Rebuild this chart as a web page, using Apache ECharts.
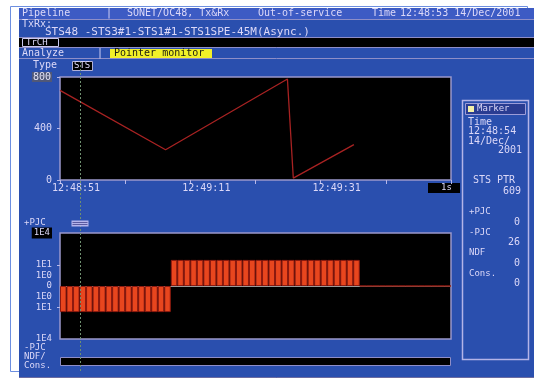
<!DOCTYPE html>
<html>
<head>
<meta charset="utf-8">
<style>
  html, body { margin: 0; padding: 0; background: #ffffff; }
  #main { width: 543px; height: 379px; }
</style>
<script src="https://cdn.jsdelivr.net/npm/echarts@6/dist/echarts.min.js"></script>
</head>
<body>
<div id="main"></div>
<script>
// Pointer monitor: STS pointer value over a 60 s window, plus pointer justifications per second.

// time axis: seconds from 12:48:51, ticks every 10 s, labels every 20 s
const timeLabels = ['12:48:51', '12:49:11', '12:49:31'];

// STS pointer value (seconds, pointer)
const ptrPoints = [[0, 696], [16.2, 235], [34.9, 784], [35.8, 15], [45.1, 275]];
const ptrTicks = [0, 400, 800];

// pointer justifications in each 1 s slot (negative = -PJC, positive = +PJC)
const pjcPerSec = [
  -29, -29, -29, -29, -29, -29, -29, -29, -29, -29,
  -29, -29, -29, -29, -29, -29, -29,  29,  29,  29,
   29,  29,  29,  29,  29,  29,  29,  29,  29,  29,
   29,  29,  29,  29,  29,  29,  29,  29,  29,  29,
   29,  29,  29,  29,  29,  29,   0,   0,   0,   0,
    0,   0,   0,   0,   0,   0,   0,   0,   0,   0
];

// marker readout
const markerSec = 3;
const markerTime = '12:48:54';
const markerDate = ['14/Dec/', '2001'];
const markerPtr = '609';
const markerCounts = [['+PJC', '0'], ['-PJC', '26'], ['NDF', '0'], ['Cons.', '0']];

const FONT = 'DejaVu Sans Mono';
const TXT = '#dcd8f8';
const RULE = '#8e8ec8';

// symmetric log scale for the justification plot: 0 -> 0, 1E0 -> 1, 1E1 -> 2 ...
function symlog(v) {
  if (v === 0) return 0;
  return Math.sign(v) * (1 + Math.log10(Math.abs(v)));
}
function symlogLabel(f) {
  const a = Math.abs(f);
  if (f === 0) return '0';
  if (a === 1 || a === 2) return '1E' + (a - 1);
  if (f === 5) return '{top|1E' + (a - 1) + '}';
  if (f === -5) return '1E' + (a - 1);
  return '';
}

const barData = pjcPerSec.map((v, i) => [i + 0.5, symlog(v)]);

function txt(text, x, y, opts) {
  opts = opts || {};
  return {
    type: 'text', z: 50, silent: true,
    style: Object.assign({
      text: text, x: x, y: y,
      font: (opts.size || 10) + 'px "' + FONT + '"',
      fill: opts.fill || TXT,
      align: opts.align || 'left',
      verticalAlign: 'middle'
    }, opts.style || {})
  };
}
function rect(x, y, w, h, fill, stroke, z, lw) {
  return {
    type: 'rect', z: z == null ? -5 : z, silent: true,
    shape: { x: x, y: y, width: w, height: h },
    style: { fill: fill || 'none', stroke: stroke || null, lineWidth: lw || 1 }
  };
}
function hline(x1, x2, y, color, z) {
  return {
    type: 'line', z: z == null ? -4 : z, silent: true,
    shape: { x1: x1, y1: y, x2: x2, y2: y },
    style: { stroke: color || RULE, lineWidth: 1 }
  };
}

const panel = [
  rect(10.5, 6.5, 517, 365, 'none', '#6d8fe0', -20),
  rect(19, 8, 515, 370, '#2a4fae', null, -19),
  rect(19, 8, 515, 11, '#3d5bc4', null, -18),
  hline(19, 534, 19.5), hline(19, 534, 37.5),
  rect(19, 38, 515, 9, '#000000', null, -18),
  hline(19, 534, 47.5), hline(19, 534, 58.5),
  rect(22.5, 38.5, 36, 8, '#000000', '#c8c8f0', -3),
  rect(110, 49, 102, 9, '#f2f028', null, -3),
  rect(72.5, 61.5, 20, 9, '#000000', '#b0b0d8', -3),
  rect(428, 183, 32, 10, '#000000', null, -3),
  rect(60.5, 357.5, 390, 8, '#000000', RULE, -3),
  hline(19, 534, 377.5, '#6c6ca0'),
  rect(462.5, 100.5, 66, 259, 'none', '#b4b4e8', -3, 1.5),
  rect(465.5, 103.5, 60, 11, '#2a3c92', '#9c9cd8', -3),
  rect(468, 106, 6, 6, '#f4f0a8', null, 10),

  txt('Pipeline', 22, 13.5),
  txt('|', 106, 13.5),
  txt('SONET/OC48, Tx&Rx', 127, 13.5),
  txt('Out-of-service', 258, 13.5),
  txt('Time', 372, 13.5),
  txt('12:48:53 14/Dec/2001', 400, 13.5),
  txt('TxRx:', 22, 24),
  txt('STS48 -STS3#1-STS1#1-STS1SPE-45M(Async.)', 45, 32.5, { size: 11 }),
  txt('TrCH', 26, 42.5, { size: 9 }),
  txt('Analyze', 22, 53.5),
  txt('|', 97, 53.5),
  txt('Pointer monitor', 114, 53.5, { fill: '#1a1a10' }),
  txt('Type', 33, 65.5),
  txt('STS', 74, 66, { size: 9 }),
  txt('1s', 441, 188, { size: 9 }),
  txt('+PJC', 24, 223, { size: 9 }),
  txt('-PJC', 24, 348, { size: 9 }),
  txt('NDF/', 24, 357, { size: 9 }),
  txt('Cons.', 24, 366, { size: 9 }),

  txt('Marker', 477, 109, { size: 9 }),
  txt('Time', 468, 122),
  txt(markerTime, 468, 131),
  txt(markerDate[0], 468, 141),
  txt(markerDate[1], 522, 150, { align: 'right' }),
  txt('STS PTR', 473, 180),
  txt(markerPtr, 521, 191, { align: 'right' })
];
markerCounts.forEach((row, i) => {
  panel.push(txt(row[0], 469, 212 + i * 20.5, { size: 9 }));
  panel.push(txt(row[1], 520, 222 + i * 20.5, { align: 'right' }));
});

const chart = echarts.init(document.getElementById('main'), null, { renderer: 'canvas' });

const gridStyle = { show: true, backgroundColor: '#000000', borderColor: '#9a98cc', borderWidth: 1.5 };
const labelStyle = { color: TXT, fontFamily: FONT, fontSize: 10 };

chart.setOption({
  animation: false,
  backgroundColor: '#ffffff',
  grid: [
    Object.assign({ left: 60, top: 77, width: 391, height: 103 }, gridStyle),
    Object.assign({ left: 60, top: 233, width: 391, height: 106 }, gridStyle)
  ],
  xAxis: [
    {
      type: 'value', gridIndex: 0, min: 0, max: 60, interval: 10,
      axisLine: { show: false },
      splitLine: { show: false },
      axisTick: { show: true, inside: false, length: 4, lineStyle: { color: '#b8b8e8' } },
      axisLabel: Object.assign({
        margin: 3, align: 'center', padding: [0, 0, 0, 32],
        formatter: function (v) {
          const i = v / 20;
          return Number.isInteger(i) && i < timeLabels.length ? timeLabels[i] : '';
        }
      }, labelStyle)
    },
    {
      type: 'value', gridIndex: 1, min: 0, max: 60, interval: 10,
      axisLine: { show: true, onZero: true, lineStyle: { color: '#9a9a9a', width: 1 } },
      axisTick: { show: false }, axisLabel: { show: false }, splitLine: { show: false }
    }
  ],
  yAxis: [
    {
      type: 'value', gridIndex: 0, min: 0, max: 800, interval: 400,
      axisLine: { show: false }, splitLine: { show: false },
      axisTick: { show: true, length: 3, lineStyle: { color: '#b8b8e8' } },
      axisLabel: Object.assign({
        margin: 8,
        formatter: function (v) {
          if (ptrTicks.indexOf(v) < 0) return '';
          return v === 800 ? '{hi|' + v + '}' : String(v);
        },
        rich: { hi: { backgroundColor: '#505878', color: '#e0e0f4', fontFamily: FONT, fontSize: 10, padding: [0, 1] } }
      }, labelStyle)
    },
    {
      type: 'value', gridIndex: 1, min: -5, max: 5, interval: 1,
      axisLine: { show: false }, splitLine: { show: false },
      axisTick: {
        show: true, length: 3, lineStyle: { color: '#b8b8e8' },
        customValues: [-2, 2]
      },
      axisLabel: Object.assign({
        margin: 8, fontSize: 9,
        formatter: symlogLabel,
        rich: { top: { backgroundColor: '#000000', color: '#dcd8f8', fontFamily: FONT, fontSize: 9, padding: [1, 2] } }
      }, labelStyle, { fontSize: 9 })
    }
  ],
  series: [
    {
      type: 'line', xAxisIndex: 0, yAxisIndex: 0,
      data: ptrPoints, symbol: 'none',
      lineStyle: { color: '#a82222', width: 1.3 }
    },
    {
      type: 'bar', xAxisIndex: 1, yAxisIndex: 1,
      data: barData, barWidth: 6.5,
      itemStyle: { color: '#e8461e', borderColor: '#8e1a10', borderWidth: 1 }
    }
  ],
  graphic: { elements: panel }
});

// marker cursor through both plots, positioned by the time scale
const mx = Math.round(chart.convertToPixel({ xAxisIndex: 0 }, markerSec)) + 0.5;
chart.setOption({
  graphic: {
    elements: panel.concat([
      {
        type: 'line', z: 40, silent: true,
        shape: { x1: mx, y1: 61, x2: mx, y2: 372 },
        style: { stroke: '#6f9070', lineWidth: 1, lineDash: [2, 2] }
      },
      rect(mx - 9, 220.5, 17, 6, '#b4b4ec', null, 41),
      hline(mx - 8, mx + 7, 222.5, '#5a5aa0', 42),
      hline(mx - 8, mx + 7, 224.5, '#5a5aa0', 42)
    ])
  }
});
</script>
</body>
</html>
